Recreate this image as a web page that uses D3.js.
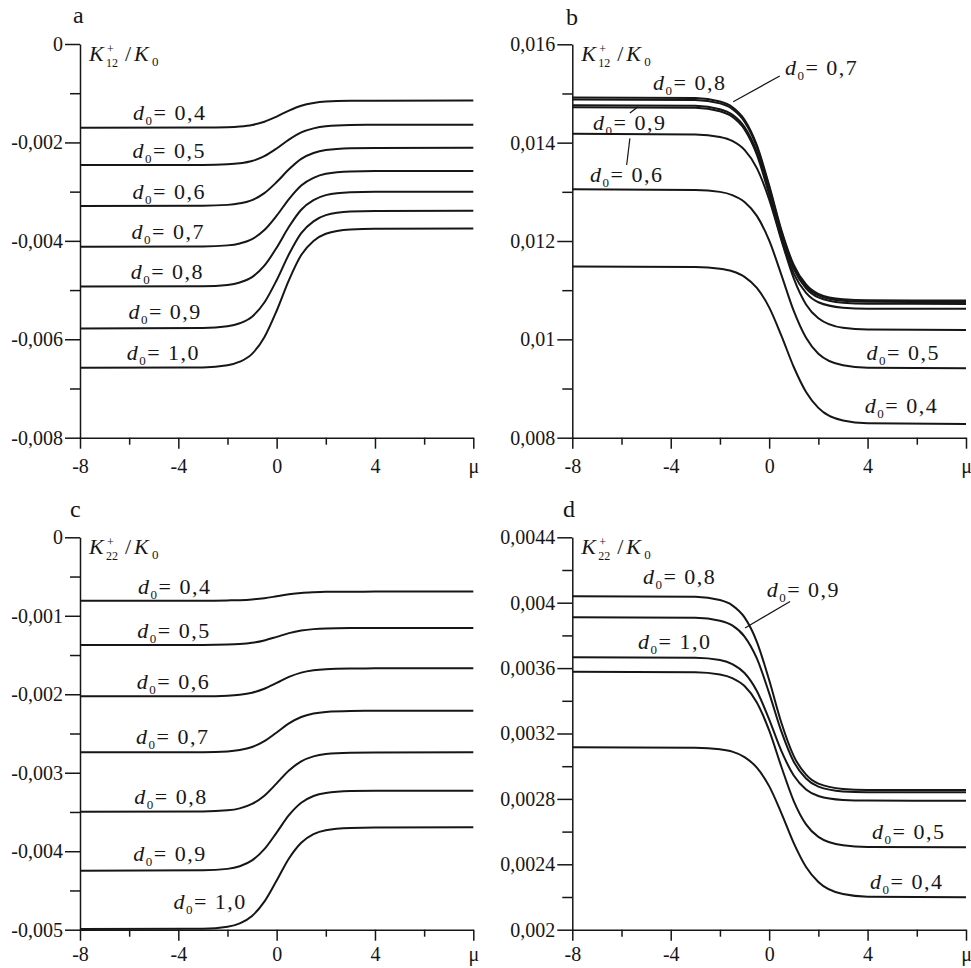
<!DOCTYPE html>
<html>
<head>
<meta charset="utf-8">
<script src="https://cdn.jsdelivr.net/npm/d3@7"></script>
<style>
  body { margin: 0; background: #fff; }
</style>
</head>
<body>
<div id="wrapper"></div>
<script>
// μ samples shared by every curve
const mu = [-8, -3, -2, -1.5, -1, -0.5, 0, 0.5, 1, 1.5, 2, 3, 4, 8]

// panel a : K12+/K0, d0 = 0,4 ... 1,0
const d0A = ["0,4", "0,5", "0,6", "0,7", "0,8", "0,9", "1,0"]
const k12a = [
    [-0.00170, -0.001698, -0.001690, -0.001676, -0.001645, -0.001579, -0.001474, -0.001353, -0.001254, -0.001199, -0.001170, -0.001153, -0.001151, -0.00115],
    [-0.00246, -0.002458, -0.002445, -0.002424, -0.002378, -0.002280, -0.002124, -0.001943, -0.001796, -0.001714, -0.001670, -0.001645, -0.001641, -0.00164],
    [-0.00329, -0.003286, -0.003269, -0.003238, -0.003172, -0.003030, -0.002806, -0.002547, -0.002334, -0.002216, -0.002154, -0.002117, -0.002111, -0.00211],
    [-0.00412, -0.004115, -0.004092, -0.004052, -0.003966, -0.003781, -0.003489, -0.003150, -0.002873, -0.002719, -0.002637, -0.002589, -0.002582, -0.00258],
    [-0.00493, -0.004924, -0.004895, -0.004845, -0.004737, -0.004505, -0.004139, -0.003714, -0.003367, -0.003174, -0.003071, -0.003012, -0.003002, -0.00300],
    [-0.00578, -0.005773, -0.005737, -0.005675, -0.005541, -0.005254, -0.004800, -0.004274, -0.003844, -0.003605, -0.003478, -0.003404, -0.003392, -0.00339],
    [-0.00658, -0.006572, -0.006529, -0.006456, -0.006297, -0.005957, -0.005420, -0.004797, -0.004288, -0.004005, -0.003855, -0.003767, -0.003753, -0.00375]
]

// panel b : K12+/K0
const d0B = ["0,4", "0,5", "0,6", "0,7", "0,8", "0,9", "1,0"]
const k12b = [
    [0.01148, 0.011470, 0.011435, 0.011384, 0.011272, 0.011045, 0.010651, 0.010072, 0.009438, 0.008930, 0.008606, 0.008350, 0.008294, 0.00828],
    [0.01305, 0.013039, 0.012999, 0.012934, 0.012795, 0.012511, 0.012013, 0.011306, 0.010578, 0.010032, 0.009708, 0.009472, 0.009421, 0.00941],
    [0.01418, 0.014168, 0.014116, 0.014036, 0.013853, 0.013482, 0.012847, 0.012013, 0.011239, 0.010709, 0.010429, 0.010234, 0.010198, 0.01019],
    [0.01488, 0.014868, 0.014798, 0.014686, 0.014427, 0.013912, 0.013096, 0.012186, 0.011481, 0.011085, 0.010896, 0.010785, 0.010764, 0.01076],
    [0.01492, 0.014908, 0.014837, 0.014726, 0.014466, 0.013949, 0.013132, 0.012219, 0.011513, 0.011116, 0.010926, 0.010815, 0.010794, 0.01079],
    [0.01476, 0.014748, 0.014679, 0.014570, 0.014316, 0.013811, 0.013011, 0.012118, 0.011427, 0.011039, 0.010853, 0.010744, 0.010724, 0.01072],
    [0.01472, 0.014708, 0.014638, 0.014527, 0.014269, 0.013756, 0.012945, 0.012039, 0.011337, 0.010944, 0.010755, 0.010645, 0.010624, 0.01062]
]

// panel c : K22+/K0
const d0C = ["0,4", "0,5", "0,6", "0,7", "0,8", "0,9", "1,0"]
const k22c = [
    [-0.000807, -0.000807, -0.000804, -0.000801, -0.000792, -0.000776, -0.000752, -0.000727, -0.000709, -0.000700, -0.000695, -0.000693, -0.000692, -0.000692],
    [-0.001372, -0.001371, -0.001367, -0.001360, -0.001344, -0.001314, -0.001269, -0.001221, -0.001188, -0.001170, -0.001161, -0.001156, -0.001155, -0.001155],
    [-0.002026, -0.002025, -0.002018, -0.002006, -0.001980, -0.001930, -0.001856, -0.001779, -0.001724, -0.001694, -0.001680, -0.001672, -0.001670, -0.001670],
    [-0.002740, -0.002738, -0.002728, -0.002710, -0.002672, -0.002597, -0.002487, -0.002372, -0.002290, -0.002246, -0.002225, -0.002213, -0.002211, -0.002210],
    [-0.003496, -0.003493, -0.003479, -0.003454, -0.003398, -0.003293, -0.003135, -0.002971, -0.002854, -0.002791, -0.002761, -0.002744, -0.002741, -0.002740],
    [-0.004248, -0.004244, -0.004225, -0.004191, -0.004117, -0.003974, -0.003762, -0.003541, -0.003383, -0.003297, -0.003258, -0.003234, -0.003230, -0.003229],
    [-0.004992, -0.004987, -0.004962, -0.004919, -0.004825, -0.004643, -0.004374, -0.004093, -0.003892, -0.003783, -0.003732, -0.003703, -0.003697, -0.003696]
]

// panel d : K22+/K0
const d0D = ["0,4", "0,5", "0,8", "0,9", "1,0"]
const k22d = [
    [0.003116, 0.003113, 0.003103, 0.003089, 0.003056, 0.002991, 0.002878, 0.002712, 0.002530, 0.002384, 0.002292, 0.002218, 0.002202, 0.002198],
    [0.003578, 0.003575, 0.003561, 0.003539, 0.003490, 0.003390, 0.003219, 0.002995, 0.002787, 0.002644, 0.002568, 0.002516, 0.002506, 0.002504],
    [0.004040, 0.004036, 0.004016, 0.003984, 0.003910, 0.003761, 0.003527, 0.003264, 0.003062, 0.002948, 0.002893, 0.002861, 0.002855, 0.002854],
    [0.003911, 0.003908, 0.003890, 0.003861, 0.003793, 0.003659, 0.003447, 0.003211, 0.003027, 0.002925, 0.002875, 0.002846, 0.002841, 0.002840],
    [0.003666, 0.003663, 0.003649, 0.003625, 0.003570, 0.003460, 0.003286, 0.003092, 0.002943, 0.002858, 0.002818, 0.002794, 0.002790, 0.002789]
]

// axis ticks
const xTicks = [-8, -6, -4, -2, 0, 2, 4, 6, 8]
const xLabels = { "-8": "-8", "-4": "-4", "0": "0", "4": "4", "8": "μ" }
const yTicksA = [0, -0.001, -0.002, -0.003, -0.004, -0.005, -0.006, -0.007, -0.008]
const yMajorA = [0, -0.002, -0.004, -0.006, -0.008]
const yTicksB = [0.008, 0.009, 0.010, 0.011, 0.012, 0.013, 0.014, 0.015, 0.016]
const yMajorB = [0.008, 0.010, 0.012, 0.014, 0.016]
const yTicksC = [0, -0.0005, -0.001, -0.0015, -0.002, -0.0025, -0.003, -0.0035, -0.004, -0.0045, -0.005]
const yMajorC = [0, -0.001, -0.002, -0.003, -0.004, -0.005]
const yTicksD = [0.002, 0.0022, 0.0024, 0.0026, 0.0028, 0.003, 0.0032, 0.0034, 0.0036, 0.0038, 0.004, 0.0042, 0.0044]
const yMajorD = [0.002, 0.0024, 0.0028, 0.0032, 0.0036, 0.004, 0.0044]

// curve labels, [μ, value] of text start / baseline
const labelPosA = [[-5.84, -0.001535], [-5.86, -0.002323], [-5.86, -0.003157], [-5.90, -0.003970], [-5.94, -0.004783], [-6.03, -0.005596], [-6.10, -0.006423]]
const labelPosB = [[3.89, 0.0085], [3.96, 0.00958], [-7.28, 0.013206], [0.64, 0.015376], [-4.72, 0.01507], [-7.16, 0.014257], null]
const labelPosC = [[-5.64, -0.000723], [-5.67, -0.001283], [-5.69, -0.001933], [-5.72, -0.002634], [-5.79, -0.003399], [-5.83, -0.004129], [-4.20, -0.004737]]
const labelPosD = [[4.10, 0.002249], [4.18, 0.002555], [-5.13, 0.004114], [-0.10, 0.004033], [-5.33, 0.003717]]
// leader lines
const leadersB = [[[0.43, 0.015355], [-1.46, 0.014833]], [[-5.66, 0.014603], [-5.33, 0.014731]], [[-5.79, 0.013545], [-5.66, 0.014088]]]
const leadersD = [[[0.85, 0.004008], [-0.98, 0.003845]]]

const width = 971
const height = 968
const ink = "#161616"
const serif = "'Liberation Serif', 'DejaVu Serif', 'Noto Serif', 'Nimbus Roman', 'FreeSerif', 'Tinos', 'Times New Roman', serif"

const fmt = d3.formatLocale({ decimal: ",", thousands: " ", grouping: [3], currency: ["", ""], minus: "-" }).format(".4~f")
const same = (a, b) => Math.abs(a - b) < 1e-9

const svg = d3.select("#wrapper").append("svg")
    .attr("width", width)
    .attr("height", height)
    .style("display", "block")
    .style("font-family", serif)

const panels = [
    { letter: "a", lx: 73, ly: 23, left: 80, right: 473.3, top: 44, bottom: 437.7, dom: [-0.008, 0], ticks: yTicksA, major: yMajorA, series: k12a, names: d0A, labels: labelPosA, leaders: [], sub: "12", xpad: 10 },
    { letter: "b", lx: 566, ly: 25, left: 572.3, right: 966, top: 44.3, bottom: 437.7, dom: [0.008, 0.016], ticks: yTicksB, major: yMajorB, series: k12b, names: d0B, labels: labelPosB, leaders: leadersB, sub: "12", xpad: 10 },
    { letter: "c", lx: 70, ly: 517, left: 80, right: 473.3, top: 537.3, bottom: 929.7, dom: [-0.005, 0], ticks: yTicksC, major: yMajorC, series: k22c, names: d0C, labels: labelPosC, leaders: [], sub: "22", xpad: 6 },
    { letter: "d", lx: 563, ly: 517, left: 572.3, right: 966, top: 537.3, bottom: 929.7, dom: [0.002, 0.0044], ticks: yTicksD, major: yMajorD, series: k22d, names: d0D, labels: labelPosD, leaders: leadersD, sub: "22", xpad: 6 }
]

function drawTitle(g, x0, b, sub) {
    const t = g.append("g").attr("fill", ink).style("font-family", serif)
    t.append("text").attr("x", x0).attr("y", b).attr("font-size", 22).attr("font-style", "italic").text("K")
    t.append("text").attr("x", x0 + 18).attr("y", b - 8).attr("font-size", 12).text("+")
    t.append("text").attr("x", x0 + 17).attr("y", b + 6).attr("font-size", 12).text(sub)
    t.append("text").attr("x", x0 + 36).attr("y", b).attr("font-size", 22).text("/")
    t.append("text").attr("x", x0 + 45).attr("y", b).attr("font-size", 22).attr("font-style", "italic").text("K")
    t.append("text").attr("x", x0 + 63).attr("y", b + 5).attr("font-size", 13).text("0")
}

function drawLabel(g, x, y, name) {
    const t = g.append("text")
        .attr("x", x)
        .attr("y", y)
        .attr("font-size", 22)
        .style("font-family", serif)
        .attr("letter-spacing", 1.5)
        .attr("fill", ink)
    t.append("tspan").attr("font-style", "italic").text("d")
    t.append("tspan").attr("font-size", 13).attr("dy", 5).text("0")
    t.append("tspan").attr("dy", -5).text("= " + name)
}

panels.forEach(p => {
    const x = d3.scaleLinear().domain([-8, 8]).range([p.left, p.right])
    const y = d3.scaleLinear().domain(p.dom).range([p.bottom, p.top])
    const g = svg.append("g")

    g.append("text")
        .attr("x", p.lx)
        .attr("y", p.ly)
        .attr("font-size", 24)
        .style("font-family", serif)
        .attr("fill", ink)
        .text(p.letter)

    //纵轴
    const yAxis = g.append("g")
        .attr("transform", `translate(${p.left},0)`)
        .call(d3.axisLeft(y)
            .tickValues(p.ticks)
            .tickSize(15)
            .tickSizeOuter(0)
            .tickPadding(2)
            .tickFormat(v => p.major.some(m => same(m, v)) ? fmt(v) : ""))
    yAxis.selectAll(".tick")
        .filter(v => !p.major.some(m => same(m, v)))
        .select("line")
        .attr("x2", -10)

    //横轴
    const xAxis = g.append("g")
        .attr("transform", `translate(0,${p.bottom})`)
        .call(d3.axisBottom(x)
            .tickValues(xTicks)
            .tickSize(11)
            .tickSizeOuter(0)
            .tickPadding(p.xpad)
            .tickFormat(v => xLabels[v] || ""))
    xAxis.selectAll(".tick")
        .filter(v => !xLabels[v])
        .select("line")
        .attr("y2", 7)

    g.selectAll(".domain, .tick line")
        .attr("stroke", ink)
        .attr("stroke-width", 1.5)
    g.selectAll(".tick text")
        .attr("fill", ink)
        .attr("font-size", 20)
        .style("font-family", serif)

    drawTitle(g, p.left + 9, p.top + 17, p.sub)

    const line = d3.line()
        .x((v, i) => x(mu[i]))
        .y(v => y(v))
        .curve(d3.curveMonotoneX)

    g.append("g")
        .selectAll("path")
        .data(p.series)
        .join("path")
        .attr("d", line)
        .attr("fill", "none")
        .attr("stroke", ink)
        .attr("stroke-width", 2)

    p.labels.forEach((pos, i) => {
        if (pos) drawLabel(g, x(pos[0]), y(pos[1]), p.names[i])
    })

    g.append("g")
        .selectAll("line")
        .data(p.leaders)
        .join("line")
        .attr("x1", d => x(d[0][0]))
        .attr("y1", d => y(d[0][1]))
        .attr("x2", d => x(d[1][0]))
        .attr("y2", d => y(d[1][1]))
        .attr("stroke", ink)
        .attr("stroke-width", 1.2)
})
</script>
</body>
</html>
